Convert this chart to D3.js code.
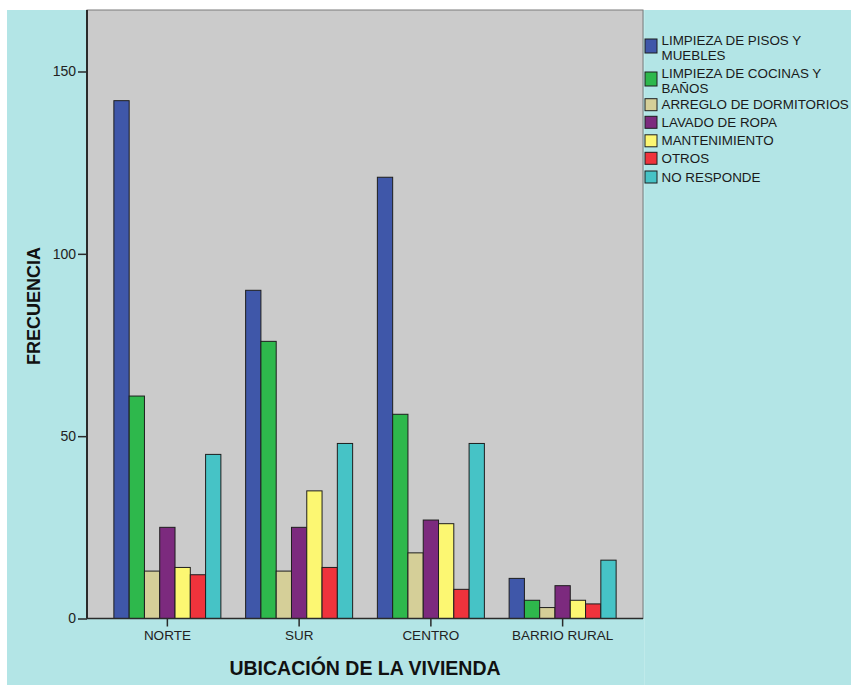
<!DOCTYPE html>
<html>
<head>
<meta charset="utf-8">
<script src="https://cdn.jsdelivr.net/npm/d3@7"></script>
<style>
  html, body { margin: 0; padding: 0; background: #ffffff; }
  svg { display: block; font-family: "Liberation Sans", Arial, sans-serif; }
</style>
</head>
<body>
<svg id="chart" width="851" height="685"></svg>
<script>
// Zonas (categorías del eje X)
const zonas = ["NORTE", "SUR", "CENTRO", "BARRIO RURAL"];

// Actividades (series); "\n" marca el salto de línea en la leyenda
const actividades = [
  "LIMPIEZA DE PISOS Y\nMUEBLES",
  "LIMPIEZA DE COCINAS Y\nBAÑOS",
  "ARREGLO DE DORMITORIOS",
  "LAVADO DE ROPA",
  "MANTENIMIENTO",
  "OTROS",
  "NO RESPONDE"
];

// Frecuencias por actividad, en el orden de las zonas
const limpiezaPisos   = [142, 90, 121, 11];
const limpiezaCocinas = [61, 76, 56, 5];
const arregloDorm     = [13, 13, 18, 3];
const lavadoRopa      = [25, 25, 27, 9];
const mantenimiento   = [14, 35, 26, 5];
const otros           = [12, 14, 8, 4];
const noResponde      = [45, 48, 48, 16];

const valores = [limpiezaPisos, limpiezaCocinas, arregloDorm, lavadoRopa, mantenimiento, otros, noResponde];

// Marcas del eje Y
const ticksY = [0, 50, 100, 150];

const colores = ["#3f57a9", "#2eb84c", "#d5cf98", "#7c2a7e", "#fcf772", "#ef333c", "#46c3c6"];

const svg = d3.select("#chart");

// Fondo general
svg.append("rect").attr("x", 7).attr("y", 10).attr("width", 844).attr("height", 675)
  .attr("fill", "#b3e5e6");
svg.append("line").attr("x1", 644.5).attr("x2", 644.5).attr("y1", 10).attr("y2", 685)
  .attr("stroke", "#bfeaea").attr("stroke-width", 1);

// Área de trazado
const plot = { left: 87, right: 643, top: 10, bottom: 618.5 };
svg.append("rect")
  .attr("x", plot.left).attr("y", plot.top)
  .attr("width", plot.right - plot.left).attr("height", plot.bottom - plot.top)
  .attr("fill", "#cbcbcb").attr("stroke", "#7a7a7a").attr("stroke-width", 1);

const y = d3.scaleLinear().domain([0, 167]).range([plot.bottom, plot.top - 0.5]);

const x0 = d3.scaleBand().domain(zonas).range([101.5, 628.5]).padding(0);
const anchoGrupo = 107;
const x1 = d3.scaleBand().domain(d3.range(actividades.length))
  .range([(x0.bandwidth() - anchoGrupo) / 2, (x0.bandwidth() + anchoGrupo) / 2]).padding(0);

// Barras
const grupos = svg.append("g").selectAll("g").data(zonas).join("g")
  .attr("transform", d => `translate(${x0(d)},0)`);

grupos.selectAll("rect")
  .data((z, zi) => valores.map((serie, si) => ({ si, v: serie[zi] })))
  .join("rect")
  .attr("x", d => x1(d.si))
  .attr("y", d => y(d.v))
  .attr("width", x1.bandwidth())
  .attr("height", d => y(0) - y(d.v))
  .attr("fill", d => colores[d.si])
  .attr("stroke", "#1e1e1e").attr("stroke-width", 1);

// Eje Y
const ejeY = svg.append("g").attr("transform", `translate(${plot.left},0)`)
  .call(d3.axisLeft(y).tickValues(ticksY).tickSize(9).tickPadding(2).tickFormat(d3.format("d")));
ejeY.select(".domain").attr("stroke", "#2a2a2a").attr("stroke-width", 2)
  .attr("d", `M0,${plot.top}V${plot.bottom}`);
ejeY.selectAll(".tick line").attr("stroke", "#2a2a2a").attr("stroke-width", 1.5);
ejeY.selectAll(".tick text").attr("font-size", 14).attr("fill", "#222")
  .attr("font-family", "Liberation Sans, Arial, sans-serif");

// Eje X
const ejeX = svg.append("g").attr("transform", `translate(0,${plot.bottom})`)
  .call(d3.axisBottom(x0).tickSize(8).tickPadding(4));
ejeX.select(".domain").attr("stroke", "#2a2a2a").attr("stroke-width", 1.5)
  .attr("d", `M${plot.left},0H${plot.right}`);
ejeX.selectAll(".tick line").attr("stroke", "#2a2a2a").attr("stroke-width", 1.5);
ejeX.selectAll(".tick text").attr("font-size", 13.5).attr("fill", "#222")
  .attr("font-family", "Liberation Sans, Arial, sans-serif");

// Títulos de los ejes
svg.append("text")
  .attr("x", 365).attr("y", 675)
  .attr("text-anchor", "middle")
  .attr("font-size", 19.5).attr("font-weight", "bold").attr("fill", "#111")
  .text("UBICACIÓN DE LA VIVIENDA");

svg.append("text")
  .attr("transform", "translate(40,306) rotate(-90)")
  .attr("text-anchor", "middle")
  .attr("font-size", 18).attr("font-weight", "bold").attr("fill", "#111")
  .text("FRECUENCIA");

// Leyenda
const leyenda = svg.append("g").attr("transform", "translate(645,0)");
const centros = [46, 79, 104.7, 122.3, 140.8, 158.3, 177];
const items = leyenda.selectAll("g").data(actividades).join("g")
  .attr("transform", (d, i) => `translate(0,${centros[i]})`);

items.append("rect")
  .attr("x", 0).attr("y", (d, i) => i < 2 ? -7 : -6)
  .attr("width", 12).attr("height", (d, i) => i < 2 ? 14 : 12)
  .attr("fill", (d, i) => colores[i])
  .attr("stroke", "#1e1e1e").attr("stroke-width", 1);

items.append("text")
  .attr("font-size", 13.4).attr("fill", "#1a1a1a")
  .attr("font-family", "Liberation Sans, Arial, sans-serif")
  .each(function (d) {
    const lineas = d.split("\n");
    const t = d3.select(this);
    const y0 = lineas.length > 1 ? -1 : 4.5;
    lineas.forEach((l, k) => {
      t.append("tspan").attr("x", 16.5).attr("y", y0 + k * 14.5).text(l);
    });
  });
</script>
</body>
</html>
